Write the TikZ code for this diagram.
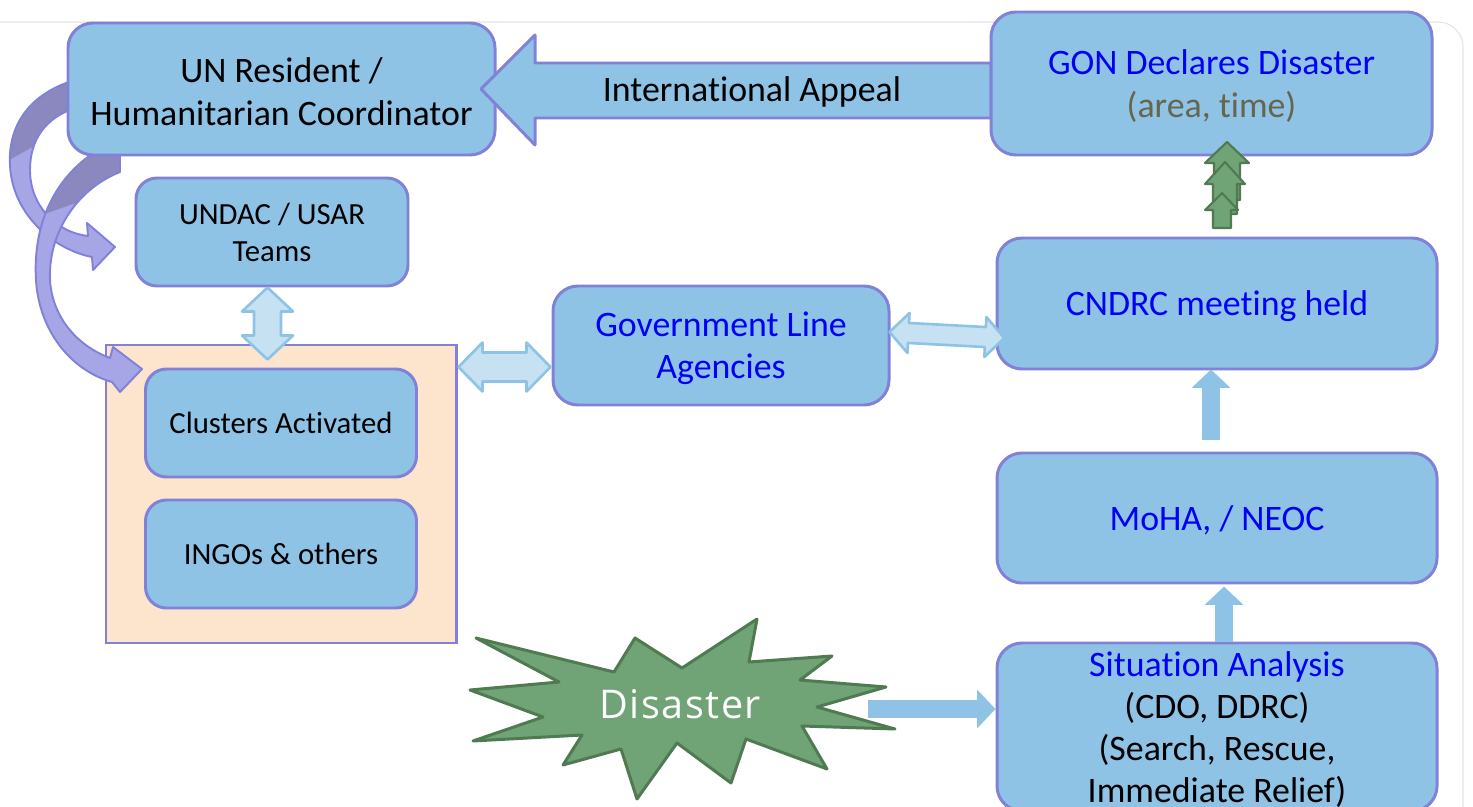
\documentclass[tikz,border=0pt]{standalone}
\usepackage{fontspec}
\setmainfont{Carlito}[Ligatures=CommonOff, Contextuals=AlternateOff]
\newfontfamily\starfont[LetterSpace=4]{Open Sans}
\usetikzlibrary{calc,arrows.meta}

\definecolor{boxfill}{HTML}{8EC3E5}
\definecolor{boxline}{HTML}{8181D7}
\definecolor{peach}{HTML}{FDE4CC}
\definecolor{dblfill}{HTML}{C5E1F2}
\definecolor{starfill}{HTML}{70A376}
\definecolor{starline}{HTML}{4F7A52}
\definecolor{curvefill}{HTML}{A6A6E7}
\definecolor{curvedark}{HTML}{8A88BE}
\definecolor{txtblue}{HTML}{0000F5}
\definecolor{areagray}{HTML}{66664F}
\definecolor{framecol}{HTML}{E2E2F0}

\newcommand\bigtxt{\fontsize{20.4}{24}\selectfont}
\newcommand\midtxt{\fontsize{17.5}{21}\selectfont}
\newcommand\topstrut{\rule{0pt}{0.84em}}

% double block arrow along local x axis, tip at origin
\newcommand{\blockdbl}[4]{(0,0) -- (#2,-#3) -- (#2,-#4) -- ({#1-#2},-#4) -- ({#1-#2},-#3) -- (#1,0) -- ({#1-#2},#3) -- ({#1-#2},#4) -- (#2,#4) -- (#2,#3) -- cycle}

\tikzset{
  box/.style={draw=boxline, fill=boxfill, line width=1.7pt, rounded corners=0.5cm,
    align=center, font=\bigtxt, inner sep=0pt},
  smallbox/.style={box, rounded corners=0.42cm, font=\midtxt},
  boxsize/.style 2 args={minimum width=#1*0.02cm, minimum height=#2*0.02cm},
  dblarrow/.style={draw=boxfill, fill=dblfill, line width=1.5pt, line join=round},
  flow/.style={draw=boxfill, line width=10.4pt, -{Triangle[width=21.5pt,length=10.5pt]}},
  curve/.style={draw=boxline, line width=1.1pt, line join=round},
  greenup/.style={draw=starline, fill=starfill, line width=1.2pt, line join=round}
}

\begin{document}
\begin{tikzpicture}[x=0.02cm, y=-0.02cm]
    \useasboundingbox (0,0) rectangle (1473,807);

    \def\curveone{(75,80) .. controls (25,95) and (8,130) .. (10,165) .. controls (12,215) and (55,250) .. (92,257) -- (93,270) -- (115,247) -- (87,223) -- (88,236) .. controls (55,232) and (30,205) .. (30,170) .. controls (30,140) and (45,118) .. (75,108) -- cycle}
    \def\curvetwo{(98,150) .. controls (50,180) and (33,230) .. (36,280) .. controls (39,330) and (70,370) .. (112,382) -- (120,392) -- (142,369) -- (113,347) -- (110,358) .. controls (75,345) and (52,315) .. (50,280) .. controls (48,235) and (75,190) .. (120,172) -- (120,150) -- cycle}

    %frame:
    \draw[framecol, line width=0.6pt, rounded corners=0.5cm] (0,22) -- (1463,22) -- (1463,810);

    %cluster group:
    \node[draw=boxline, fill=peach, line width=1.7pt, boxsize={350}{298}] (grp) at (281,494) {};
    \node[smallbox, boxsize={271}{108}] (clu) at (281,423) {Clusters Activated};
    \node[smallbox, boxsize={271}{108}] (ingo) at (281,554) {INGOs \& others};

    %curved arrows:
    \fill[curvefill] \curveone;
    \begin{scope}
        \clip \curveone;
        \fill[curvedark] (0,0) -- (100,0) -- (100,110) -- (0,165) -- cycle;
    \end{scope}
    \draw[curve] \curveone;
    \fill[curvefill] \curvetwo;
    \begin{scope}
        \clip \curvetwo;
        \fill[curvedark] (0,140) -- (140,140) -- (140,180) -- (0,230) -- cycle;
    \end{scope}
    \draw[curve] \curvetwo;

    \node[box, boxsize={427}{132}] (un) at (281.5,89) {\topstrut UN Resident /\\Humanitarian Coordinator};

    %appeal:
    \draw[draw=boxline, fill=boxfill, line width=1.7pt, line join=round]
        (991,63) -- (535,63) -- (535,35) -- (481,89) -- (535,145) -- (535,118) -- (991,118) -- cycle;
    \node[font=\bigtxt] (appeal) at (752,89) {\topstrut International Appeal};

    \node[box, boxsize={441}{143}] (gon) at (1211.5,83.5)
        {\color{txtblue}\topstrut GON Declares Disaster\\\color{areagray}(area, time)};
    \node[smallbox, boxsize={272}{108}] (undac) at (272,232) {UNDAC / USAR\\Teams};
    \node[box, boxsize={336}{119}, text=txtblue] (gov) at (721,345.5) {\topstrut Government Line\\Agencies};
    \node[box, boxsize={440}{131}, text=txtblue] (cndrc) at (1217,303.5) {\topstrut CNDRC meeting held};
    \node[box, boxsize={440}{130}, text=txtblue] (moha) at (1217,518) {\topstrut MoHA, / NEOC};
    \node[box, boxsize={440}{168}] (sit) at (1217,727)
        {\color{txtblue}\topstrut Situation Analysis\\(CDO, DDRC)\\(Search, Rescue,\\Immediate Relief)};

    %links:
    \draw[dblarrow, shift={($(undac.south)+(-4.5,0)$)}, rotate=-90] \blockdbl{72}{24}{25.5}{13.5};
    \draw[dblarrow, shift={($(grp.north east)+(1,23.5)$)}] \blockdbl{92}{24}{24.5}{14.5};
    \draw[dblarrow, shift={($(gov.east)+(-1,-13.5)$)}, rotate=-3] \blockdbl{115}{19}{20}{10};
    \draw[flow] ($(moha.north)+(-6,-12)$) -- ($(cndrc.south)+(-6,-1)$);
    \draw[flow] ($(sit.north)+(7,0)$) -- ($(moha.south)+(7,2)$);

    %green arrows:
    \draw[greenup] (1227,142) -- (1249,163) -- (1240,163) -- (1240,200) -- (1214,200) -- (1214,163) -- (1205,163) -- cycle;
    \draw[greenup] (1225,162) -- (1245,184) -- (1237,184) -- (1237,214) -- (1213,214) -- (1213,184) -- (1205,184) -- cycle;
    \draw[greenup] (1222,193) -- (1238,210) -- (1231,210) -- (1231,228) -- (1213,228) -- (1213,210) -- (1205,210) -- cycle;

    %disaster:
    \draw[fill=starfill, draw=starline, line width=1.7pt, line join=round]
        (476,638) -- (614,672) -- (635,638) -- (682,668) -- (757,619) -- (749,662) --
        (832,656) -- (800,680) -- (886,687) -- (817,707) -- (895,729) -- (802,726) --
        (827,769) -- (746,739) -- (731,783) -- (677,743) -- (637,799) -- (621,749) --
        (563,765) -- (582,735) -- (473,741) -- (543,717) -- (470,690) -- (559,682) -- cycle;
    \node[font=\starfont\fontsize{22.5}{26}\selectfont, text=white] (disaster) at (680,704) {Disaster};
    \coordinate (dtail) at (868,709);
    \draw[flow] (dtail) -- (dtail -| sit.west);

\end{tikzpicture}
\end{document}
